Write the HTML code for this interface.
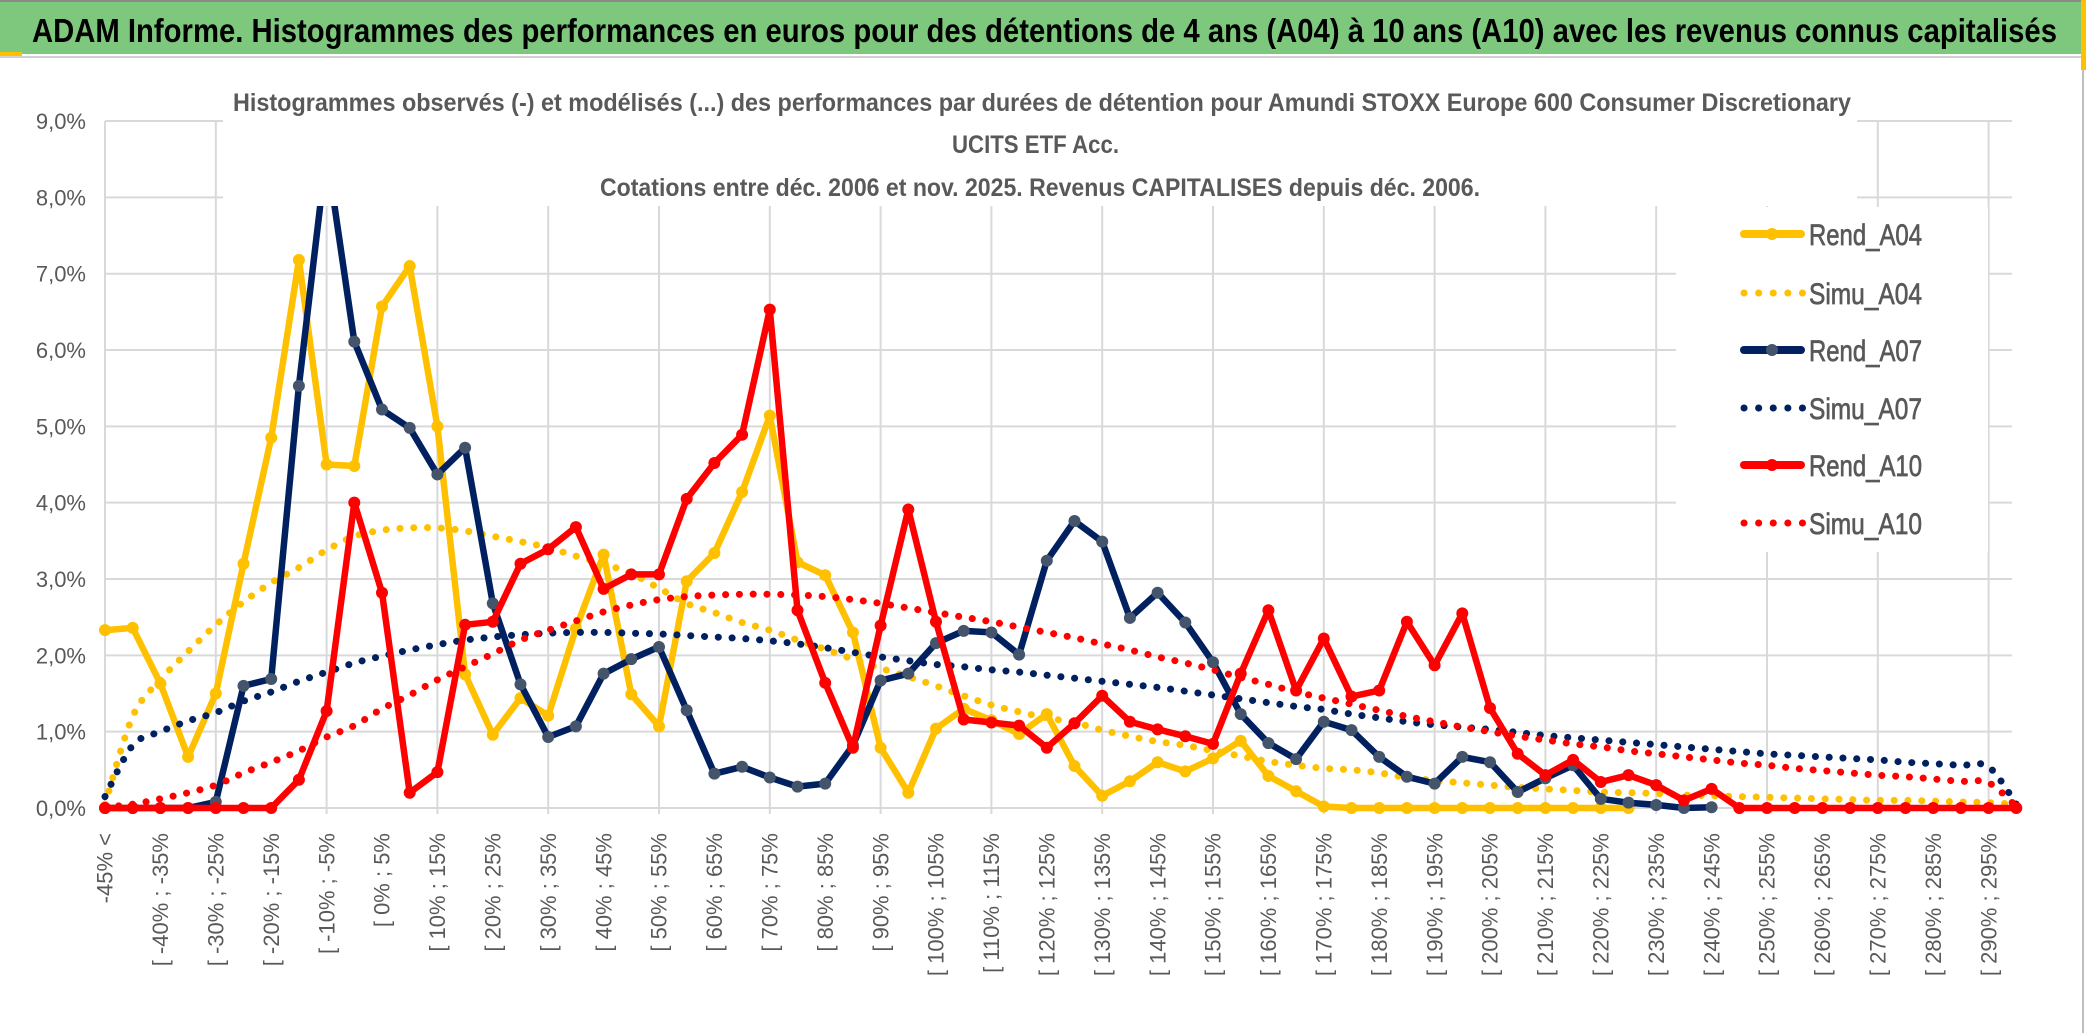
<!DOCTYPE html>
<html><head><meta charset="utf-8"><title>ADAM Informe</title>
<style>
html,body{margin:0;padding:0;background:#fff;}
svg{display:block;}
text{font-family:"Liberation Sans",sans-serif;}
</style></head>
<body>
<svg id="chart" width="2086" height="1033" viewBox="0 0 2086 1033" xmlns="http://www.w3.org/2000/svg">
  <rect x="0" y="0" width="2086" height="1033" fill="#ffffff"/>
  <rect x="0" y="0" width="2086" height="54" fill="#7ec87e"/>
  <line x1="0" y1="1" x2="2086" y2="1" stroke="#8a8a8a" stroke-width="2"/>
  <rect x="0" y="52" width="22" height="4" fill="#ffc000"/>
  <line x1="0" y1="57" x2="2086" y2="57" stroke="#d0d0d0" stroke-width="2"/>
  <text x="32" y="42" font-size="33" font-weight="bold" fill="#000" textLength="2025" lengthAdjust="spacingAndGlyphs">ADAM Informe. Histogrammes des performances en euros pour des détentions de 4 ans (A04) à 10 ans (A10) avec les revenus connus capitalisés</text>
  <line x1="2083" y1="58" x2="2083" y2="1033" stroke="#bfbfbf" stroke-width="2"/>
  <rect x="2081" y="0" width="5" height="70" fill="#ffc000"/>
  <g id="grid"></g>
  <g id="series"></g>
  <rect x="223" y="60" width="1634" height="146" fill="#fff"/>
  <rect x="1676" y="207" width="312" height="345" fill="#fff"/>
  <text x="233" y="111" font-size="25" font-weight="bold" fill="#595959" textLength="1618" lengthAdjust="spacingAndGlyphs">Histogrammes observés (-) et modélisés (...) des performances par durées de détention pour Amundi STOXX Europe 600 Consumer Discretionary</text>
  <text x="952" y="153" font-size="25" font-weight="bold" fill="#595959" textLength="167" lengthAdjust="spacingAndGlyphs">UCITS ETF Acc.</text>
  <text x="600" y="196" font-size="25" font-weight="bold" fill="#595959" textLength="880" lengthAdjust="spacingAndGlyphs">Cotations entre déc. 2006 et nov. 2025. Revenus CAPITALISES depuis déc. 2006.</text>
  <g id="yaxis"></g>
  <g id="xaxis"></g>
  <g id="legend"></g>
</svg>
<script>
// ---- data ----
const categories = ["-45% <"];
for (let i = 0; i < 69; i++) { categories.push("[ " + (-45 + 5 * i) + "% ; " + (-40 + 5 * i) + "%"); }
const yTicks = [0, 1, 2, 3, 4, 5, 6, 7, 8, 9];
const yTickLabels = ["0,0%","1,0%","2,0%","3,0%","4,0%","5,0%","6,0%","7,0%","8,0%","9,0%"];
const seriesNames = ["Rend_A04","Simu_A04","Rend_A07","Simu_A07","Rend_A10","Simu_A10"];
const rendA04 = [2.33,2.36,1.63,0.67,1.5,3.2,4.85,7.18,4.5,4.48,6.57,7.1,5.0,1.75,0.96,1.44,1.21,2.35,3.32,1.49,1.07,2.97,3.34,4.14,5.14,3.22,3.05,2.3,0.79,0.2,1.04,1.3,1.15,0.97,1.23,0.55,0.16,0.35,0.6,0.48,0.65,0.88,0.42,0.22,0.02,0,0,0,0,0,0,0,0,0,0,0,null,null,null,null,null,null,null,null,null,null,null,null,null,null];
const simuA04 = [0.05,1.2,1.68,2.05,2.4,2.7,2.95,3.15,3.38,3.56,3.64,3.67,3.67,3.63,3.56,3.49,3.41,3.3,3.2,3.07,2.88,2.68,2.56,2.43,2.33,2.2,2.08,1.95,1.83,1.72,1.6,1.47,1.35,1.26,1.18,1.12,1.02,0.94,0.87,0.82,0.75,0.68,0.61,0.56,0.52,0.5,0.46,0.4,0.36,0.33,0.3,0.27,0.25,0.23,0.21,0.2,0.19,0.17,0.16,0.15,0.14,0.13,0.12,0.11,0.1,0.1,0.09,0.08,0.07,0.05];
const rendA07 = [0,0,0,0,0.08,1.6,1.69,5.53,8.6,6.11,5.22,4.98,4.37,4.72,2.68,1.62,0.93,1.07,1.76,1.95,2.11,1.28,0.45,0.54,0.4,0.28,0.32,0.82,1.67,1.76,2.16,2.32,2.3,2.01,3.24,3.76,3.49,2.49,2.82,2.43,1.91,1.23,0.85,0.64,1.13,1.02,0.67,0.41,0.32,0.67,0.6,0.21,0.39,0.56,0.12,0.07,0.04,0,0.01,null,null,null,null,null,null,null,null,null,null,null];
const simuA07 = [0.15,0.82,1.0,1.14,1.25,1.4,1.52,1.66,1.78,1.9,1.99,2.07,2.14,2.2,2.24,2.27,2.29,2.3,2.3,2.29,2.28,2.26,2.24,2.22,2.19,2.15,2.1,2.04,1.98,1.93,1.88,1.85,1.81,1.78,1.74,1.7,1.66,1.62,1.58,1.53,1.48,1.43,1.38,1.33,1.29,1.23,1.18,1.13,1.09,1.06,1.03,0.99,0.95,0.92,0.89,0.86,0.83,0.8,0.77,0.74,0.71,0.69,0.67,0.65,0.63,0.6,0.58,0.56,0.54,0.05];
const rendA10 = [0,0,0,0,0,0,0,0.37,1.27,4.0,2.82,0.2,0.47,2.4,2.44,3.2,3.39,3.68,2.87,3.06,3.06,4.05,4.52,4.89,6.53,2.59,1.64,0.79,2.39,3.91,2.44,1.16,1.12,1.08,0.79,1.11,1.47,1.13,1.03,0.94,0.84,1.76,2.59,1.54,2.22,1.46,1.54,2.44,1.87,2.55,1.31,0.71,0.43,0.63,0.34,0.43,0.3,0.1,0.25,0,0,0,0,0,0,0,0,0,0,0];
const simuA10 = [0.01,0.05,0.12,0.2,0.3,0.46,0.6,0.75,0.93,1.08,1.3,1.48,1.68,1.85,2.02,2.2,2.33,2.45,2.57,2.66,2.73,2.77,2.79,2.8,2.8,2.79,2.77,2.73,2.68,2.62,2.56,2.5,2.44,2.37,2.3,2.23,2.15,2.07,1.98,1.9,1.81,1.71,1.62,1.52,1.44,1.36,1.28,1.2,1.13,1.06,1.0,0.94,0.89,0.84,0.8,0.75,0.71,0.67,0.63,0.59,0.56,0.52,0.49,0.46,0.43,0.41,0.38,0.35,0.33,0.02];

// ---- layout ----
const NS = "http://www.w3.org/2000/svg";
const X0 = 105, XSTEP = 27.7, Y0 = 808, YUNIT = 76.33, XRIGHT = 2012;
function xScale(i) { return X0 + XSTEP * i; }
function yScale(v) { return Y0 - YUNIT * v; }
function mk(tag, attrs, parent) {
  const el = document.createElementNS(NS, tag);
  for (const k in attrs) el.setAttribute(k, attrs[k]);
  parent.appendChild(el);
  return el;
}
const grid = document.getElementById("grid");
const seriesG = document.getElementById("series");
const yaxis = document.getElementById("yaxis");
const xaxis = document.getElementById("xaxis");
const legend = document.getElementById("legend");

yTicks.forEach((t, i) => {
  const ln = mk("line", {x1: X0, x2: XRIGHT, y1: yScale(t), y2: yScale(t), stroke: "#d9d9d9", "stroke-width": 2}, grid);
  
  
  const tx = mk("text", {x: 86, y: yScale(t) + 8, "font-size": 22, fill: "#595959", "text-anchor": "end"}, yaxis);
  tx.textContent = yTickLabels[i];
  
  
});
for (let i = 0; i < categories.length; i += 4) {
  const ln = mk("line", {x1: xScale(i), x2: xScale(i), y1: yScale(9), y2: Y0 + 6, stroke: "#d9d9d9", "stroke-width": 2}, grid);
  
  
}
categories.forEach((c, i) => {
  if (i % 2 !== 0) return;
  const x = xScale(i), y = 833;
  const tx = mk("text", {x: x, y: y, dy: "0.35em", "font-size": 22, fill: "#595959", "text-anchor": "end", transform: "rotate(-90 " + x + " " + y + ")"}, xaxis);
  tx.textContent = c;
  
  
});

function pts(arr) {
  const p = [];
  arr.forEach((v, i) => { if (v !== null) p.push([xScale(i), yScale(v)]); });
  return p;
}
function straightPath(p) { return p.map((q, i) => (i ? "L" : "M") + q[0].toFixed(1) + " " + q[1].toFixed(1)).join(" "); }
function smoothPath(p) {
  let d = "M" + p[0][0].toFixed(1) + " " + p[0][1].toFixed(1);
  for (let i = 0; i < p.length - 1; i++) {
    const p0 = p[i - 1] || p[i], p1 = p[i], p2 = p[i + 1], p3 = p[i + 2] || p2;
    const c1x = p1[0] + (p2[0] - p0[0]) / 6, c1y = p1[1] + (p2[1] - p0[1]) / 6;
    const c2x = p2[0] - (p3[0] - p1[0]) / 6, c2y = p2[1] - (p3[1] - p1[1]) / 6;
    d += " C" + c1x.toFixed(1) + " " + c1y.toFixed(1) + " " + c2x.toFixed(1) + " " + c2y.toFixed(1) + " " + p2[0].toFixed(1) + " " + p2[1].toFixed(1);
  }
  return d;
}
function drawObserved(arr, color, markerColor, name) {
  const p = pts(arr);
  const g = mk("g", {}, seriesG);
  
  
  const path = mk("path", {d: straightPath(p), fill: "none", stroke: color, "stroke-width": 6.5, "stroke-linejoin": "round", "stroke-linecap": "round"}, g);
  
  
  p.forEach(q => {
    const c = mk("circle", {cx: q[0], cy: q[1], r: 6, fill: markerColor}, g);
    
    
  });
}
function drawSim(arr, color, name) {
  const p = pts(arr);
  const path = mk("path", {d: smoothPath(p), fill: "none", stroke: color, "stroke-width": 7, "stroke-linecap": "round", "stroke-dasharray": "0.1 13.7"}, seriesG);
  
  
}
drawObserved(rendA04, "#ffc000", "#ffc000", "rend-a04");
drawSim(simuA04, "#ffc000", "simu-a04");
drawObserved(rendA07, "#002060", "#44546a", "rend-a07");
drawSim(simuA07, "#002060", "simu-a07");
drawObserved(rendA10, "#ff0000", "#ff0000", "rend-a10");
drawSim(simuA10, "#ff0000", "simu-a10");

const legColors = ["#ffc000","#ffc000","#002060","#002060","#ff0000","#ff0000"];
const legMarkers = ["#ffc000",null,"#44546a",null,"#ff0000",null];
const legY = [234, 293, 350, 408, 465, 523];
seriesNames.forEach((n, i) => {
  const g = mk("g", {}, legend);
  
  
  const y = legY[i];
  if (i % 2 === 0) {
    mk("line", {x1: 1744, x2: 1801, y1: y, y2: y, stroke: legColors[i], "stroke-width": 8, "stroke-linecap": "round"}, g);
    mk("circle", {cx: 1772, cy: y, r: 6, fill: legMarkers[i]}, g);
  } else {
    mk("line", {x1: 1744, x2: 1804, y1: y, y2: y, stroke: legColors[i], "stroke-width": 7, "stroke-linecap": "round", "stroke-dasharray": "0.1 14.5"}, g);
  }
  const t = mk("text", {x: 1809, y: y + 11, "font-size": 30, fill: "#595959", stroke: "#595959", "stroke-width": 0.7, textLength: 113, lengthAdjust: "spacingAndGlyphs"}, g);
  t.textContent = n;
});
</script>
</body></html>
